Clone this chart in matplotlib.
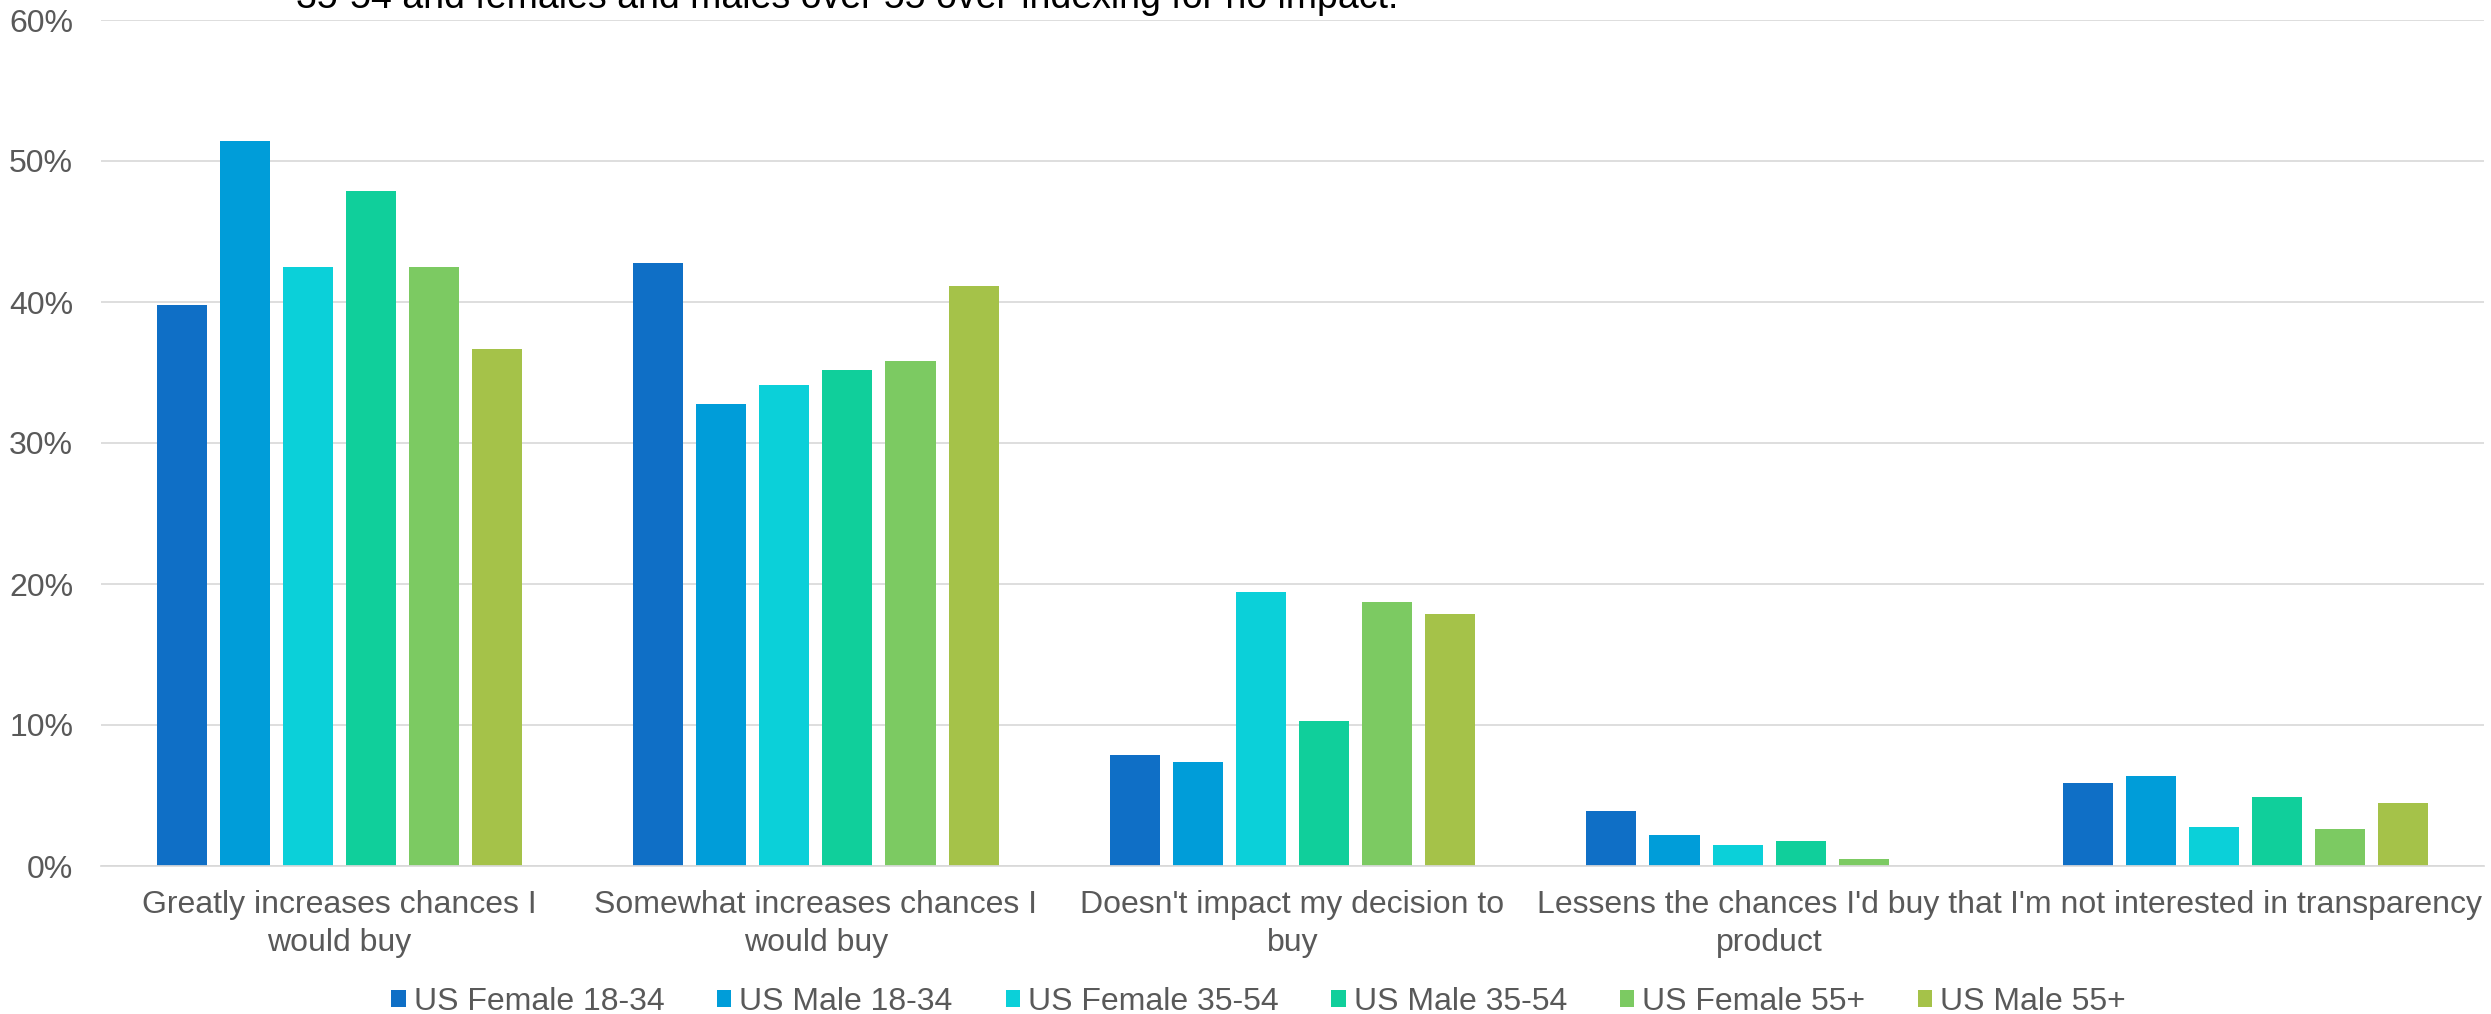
import numpy as np
from matplotlib import pyplot as plt

plt.rcParams['font.family'] = ['Liberation Sans', 'DejaVu Sans']

categories = [
    "Greatly increases chances I\nwould buy",
    "Somewhat increases chances I\nwould buy",
    "Doesn't impact my decision to\nbuy",
    "Lessens the chances I'd buy that\nproduct",
    "I'm not interested in transparency",
]
segments = ['US Female 18-34', 'US Male 18-34', 'US Female 35-54',
            'US Male 35-54', 'US Female 55+', 'US Male 55+']

# share of respondents (%) per answer, one list per segment
female_18_34 = [39.8, 42.8, 7.9, 3.9, 5.9]
male_18_34 = [51.4, 32.8, 7.4, 2.2, 6.4]
female_35_54 = [42.5, 34.1, 19.4, 1.5, 2.8]
male_35_54 = [47.9, 35.2, 10.3, 1.8, 4.9]
female_55_plus = [42.5, 35.8, 18.7, 0.5, 2.6]
male_55_plus = [36.7, 41.1, 17.9, 0.0, 4.5]

yticks = [0, 10, 20, 30, 40, 50, 60]
ytick_labels = ['0%', '10%', '20%', '30%', '40%', '50%', '60%']

note = "35-54 and females and males over 55 over-indexing for no impact."

colors = ['#0F6FC6', '#009DD9', '#0BD0D9', '#10CF9B', '#7CCA62', '#A5C249']
series = [female_18_34, male_18_34, female_35_54, male_35_54,
          female_55_plus, male_55_plus]

fig = plt.figure(figsize=(24.91, 10.14), dpi=100)
ax = fig.add_axes([101 / 2491, 148 / 1014, 2383 / 2491, 846 / 1014])

x = np.arange(len(categories))
pitch = 0.1323
width = 0.105
for i, (vals, name, c) in enumerate(zip(series, segments, colors)):
    ax.bar(x + (i - 2.5) * pitch, vals, width=width, color=c, label=name,
           zorder=3)

ax.set_xlim(-0.5, len(categories) - 0.5)
ax.set_ylim(0, 60)
ax.set_yticks(yticks)
ax.set_yticklabels(ytick_labels)
ax.set_xticks(x)
ax.set_xticklabels(categories, linespacing=1.37)

ax.tick_params(axis='y', length=0, pad=20, labelsize=23, labelcolor='#595959')
ax.tick_params(axis='x', length=0, pad=17, labelsize=23, labelcolor='#595959')

ax.grid(axis='y', color='#D9D9D9', linewidth=1.25, zorder=0)
for side in ['top', 'right', 'left']:
    ax.spines[side].set_visible(False)
ax.spines['bottom'].set_color('#D9D9D9')
ax.spines['bottom'].set_linewidth(1.25)
ax.spines['bottom'].set_zorder(4)

fig.legend(loc='center', bbox_to_anchor=(0.5053, 0.012), ncol=6,
           frameon=False, fontsize=23, labelcolor='#595959',
           handlelength=0.45, handleheight=0.45, handletextpad=0.25,
           columnspacing=1.65, borderaxespad=0)

# footnote line running off the top edge
fig.text(296 / 2491, 1 - 8 / 1014, note, fontsize=27, color='black',
         va='baseline', ha='left')

fig.savefig('out.png', dpi=100)
